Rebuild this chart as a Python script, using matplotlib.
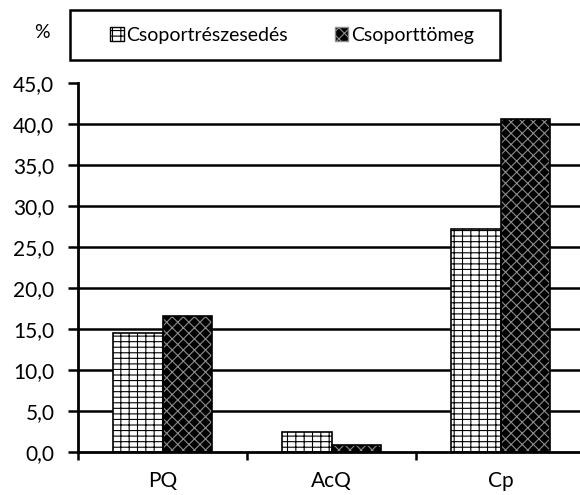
import numpy as np
import matplotlib
matplotlib.use("Agg")
import matplotlib.pyplot as plt
from matplotlib.patches import Patch, Rectangle

categories = ["PQ", "AcQ", "Cp"]
series_names = ["Csoportrészesedés", "Csoporttömeg"]
reszesedes = [14.5, 2.4, 27.2]
tomeg = [16.6, 0.8, 40.6]
y_ticks = [0, 5, 10, 15, 20, 25, 30, 35, 40, 45]
y_tick_labels = ["0,0", "5,0", "10,0", "15,0", "20,0", "25,0", "30,0", "35,0", "40,0", "45,0"]

plt.rcParams["font.family"] = ["Lato", "DejaVu Sans"]
plt.rcParams["hatch.linewidth"] = 0.8

fig = plt.figure(figsize=(5.8, 4.95), dpi=100)
ax = fig.add_axes([78 / 580, 43 / 495, 507 / 580, 369 / 495])

x = np.arange(len(categories))
w = 0.29
FS = 15

# brick-like fill for the first series
ax.bar(x - w / 2, reszesedes, w, facecolor="white", edgecolor="black",
       hatch="---||", linewidth=0, zorder=3)
ax.bar(x - w / 2, reszesedes, w, facecolor="none", edgecolor="black",
       linewidth=1.2, zorder=4)
# black fill with light diagonal lattice for the second series
ax.bar(x + w / 2, tomeg, w, facecolor="black", edgecolor="#8c8c8c",
       hatch="xxx", linewidth=0, zorder=3)
ax.bar(x + w / 2, tomeg, w, facecolor="none", edgecolor="black",
       linewidth=1.2, zorder=4)

for t in y_ticks[1:-1]:
    ax.axhline(t, color="black", linewidth=1.8, zorder=1)

ax.set_xlim(-0.5, 2.5)
ax.set_ylim(0, 45)
ax.set_yticks(y_ticks)
ax.set_yticklabels(y_tick_labels, fontsize=FS)
ax.set_xticks(x)
ax.set_xticklabels(categories, fontsize=FS)
ax.tick_params(axis="x", length=0, pad=14)
ax.set_xticks([-0.5, 0.5, 1.5, 2.5], minor=True)
ax.tick_params(axis="x", which="minor", length=6, width=1.8, direction="out")
ax.tick_params(axis="y", length=7, width=1.8, direction="out", pad=10)

for side in ("top", "right"):
    ax.spines[side].set_visible(False)
for side in ("left", "bottom"):
    ax.spines[side].set_linewidth(2.0)
ax.spines["bottom"].set_zorder(5)

fig.text(42 / 580, 1 - 32 / 495, "%", fontsize=14, ha="center", va="center")

# framed legend strip above the plot
fig.patches.append(Rectangle((70 / 580, 1 - 60 / 495), 430 / 580, 50 / 495,
                             transform=fig.transFigure, facecolor="white",
                             edgecolor="black", linewidth=1.8))
handles = [Patch(facecolor="white", edgecolor="black", hatch="---||"),
           Patch(facecolor="black", edgecolor="#8c8c8c", hatch="xxx")]
fig.legend(handles, series_names, loc="center",
           bbox_to_anchor=(292 / 580, 1 - 35 / 495), ncol=2, frameon=False,
           fontsize=14, handlelength=0.7, handleheight=0.7, handletextpad=0.15,
           columnspacing=2.4)

fig.savefig("out.png", dpi=100)
